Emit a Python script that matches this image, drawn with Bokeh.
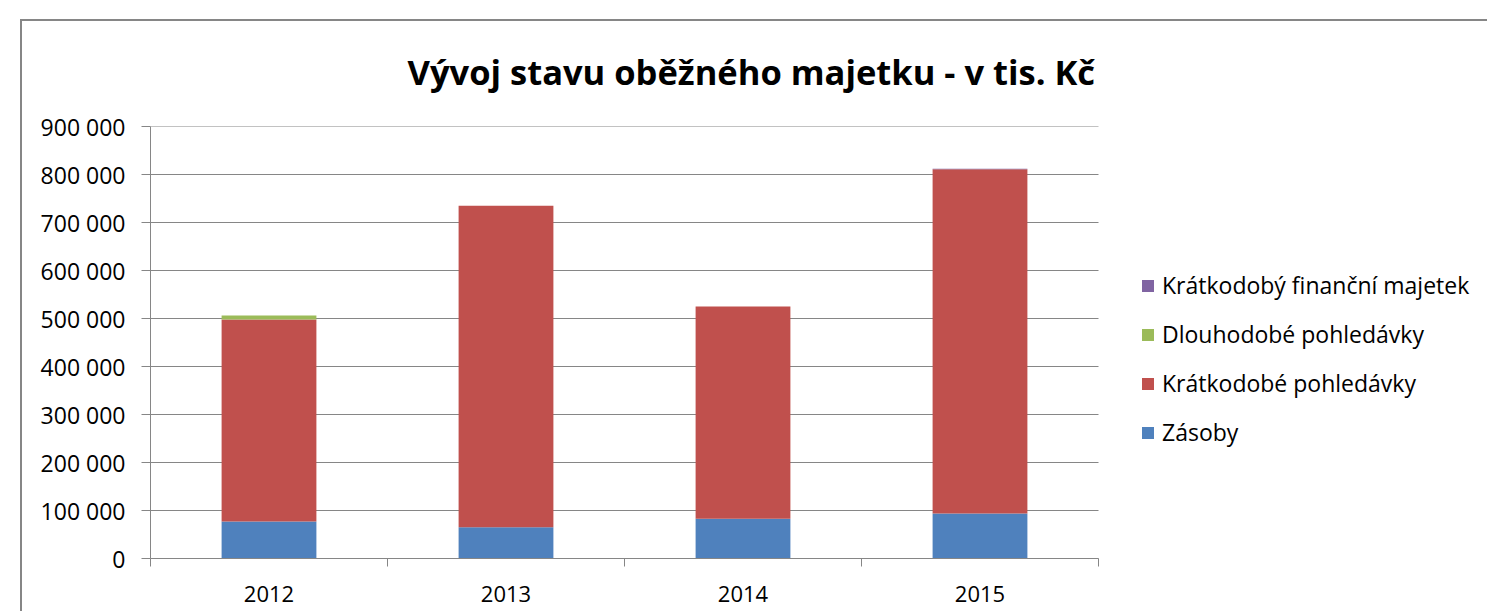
from bokeh.plotting import figure
from bokeh.models import (ColumnDataSource, FixedTicker, Legend, LegendItem,
                          Range1d, InlineStyleSheet)
from bokeh.embed import file_html
from bokeh.resources import INLINE

# ---- data ----
years = ["2012", "2013", "2014", "2015"]
zasoby = [77000, 65000, 83000, 94000]
kratkodobe_pohledavky = [421000, 670000, 442000, 717000]
dlouhodobe_pohledavky = [8000, 0, 0, 0]
kratkodoby_financni_majetek = [0, 0, 0, 1200]
series_names = ["Zásoby", "Krátkodobé pohledávky", "Dlouhodobé pohledávky",
                "Krátkodobý finanční majetek"]
series_colors = ["#4F81BD", "#C0504D", "#9BBB59", "#8064A2"]
y_ticks = [0, 100000, 200000, 300000, 400000, 500000, 600000, 700000, 800000, 900000]
y_tick_labels = ["0", "100 000", "200 000", "300 000", "400 000", "500 000",
                 "600 000", "700 000", "800 000", "900 000"]
title_text = "Vývoj stavu oběžného majetku - v tis. Kč"

FONT = "Open Sans"
GRAY = "#868686"

# layout (pixels)
W, H = 1487, 611
LEFT, TOP, BOTTOM = 150, 126, 53
PLOT_W = 948          # width of the plotting area holding the bars
FRAME_W = W - LEFT    # frame extends to the right so the legend can sit in it

x_pos = [i + 1 for i in range(len(years))]
x_lo, x_hi = x_pos[0] - 0.5, x_pos[-1] + 0.5
x_end = x_lo + (x_hi - x_lo) * FRAME_W / PLOT_W

keys = ["zasoby", "kp", "dp", "kfm"]
source = ColumnDataSource(dict(x=x_pos, zasoby=zasoby, kp=kratkodobe_pohledavky,
                               dp=dlouhodobe_pohledavky, kfm=kratkodoby_financni_majetek))

p = figure(width=W, height=H, output_backend="svg", toolbar_location=None,
           x_range=Range1d(x_lo, x_end), y_range=Range1d(y_ticks[0], y_ticks[-1]),
           min_border_left=LEFT, min_border_right=0, min_border_top=TOP,
           min_border_bottom=BOTTOM)
p.outline_line_color = None
p.background_fill_color = "white"
p.border_fill_color = "white"

# chart-area border (left and top edges are the only ones inside the window)
p.stylesheets = [InlineStyleSheet(css="""
:host { position: relative; overflow: hidden; }
:host::after { content: ""; position: absolute; left: 20px; top: 19px;
  width: 4000px; height: 4000px; border-left: 2px solid #868686;
  border-top: 2px solid #868686; pointer-events: none; z-index: 10; }
""")]

# horizontal gridlines limited to the plotting area
p.xgrid.visible = False
p.ygrid.visible = False
p.segment(x0=[x_lo] * len(y_ticks), x1=[x_hi] * len(y_ticks), y0=y_ticks, y1=y_ticks,
          line_color=GRAY, line_width=1, level="underlay")

renderers = p.vbar_stack(keys, x="x", width=0.4, source=source,
                         fill_color=series_colors, line_color=None)

# title
p.title.text = title_text
p.title.align = "left"
p.title.offset = 257
p.title.standoff = 64
p.title.text_font = FONT
p.title.text_font_size = "34.5px"
p.title.text_font_style = "bold"
p.title.text_color = "black"

# x axis
p.xaxis.bounds = (x_lo, x_hi)
p.xaxis.ticker = FixedTicker(ticks=x_pos, minor_ticks=[i + 0.5 for i in range(len(years) + 1)])
p.xaxis.major_label_overrides = {x: y for x, y in zip(x_pos, years)}
p.xaxis.major_tick_out = 0
p.xaxis.major_tick_in = 0
p.xaxis.minor_tick_out = 8
p.xaxis.minor_tick_in = 0
p.xaxis.minor_tick_line_color = GRAY
p.xaxis.axis_line_color = GRAY
p.xaxis.major_label_text_font = FONT
p.xaxis.major_label_text_font_size = "22px"
p.xaxis.major_label_text_color = "black"
p.xaxis.major_label_standoff = 19

# y axis
p.yaxis.ticker = FixedTicker(ticks=y_ticks)
p.yaxis.major_label_overrides = {t: l for t, l in zip(y_ticks, y_tick_labels)}
p.yaxis.major_tick_out = 9
p.yaxis.major_tick_in = 0
p.yaxis.minor_tick_line_color = None
p.yaxis.major_tick_line_color = GRAY
p.yaxis.axis_line_color = GRAY
p.yaxis.major_label_text_font = FONT
p.yaxis.major_label_text_font_size = "23px"
p.yaxis.major_label_text_color = "black"
p.yaxis.major_label_standoff = 16

# legend (reverse order, like Excel)
items = [LegendItem(label=series_names[i], renderers=[renderers[i]])
         for i in range(len(keys) - 1, -1, -1)]
legend = Legend(items=items, location=(990, 110), orientation="vertical",
                glyph_width=15, glyph_height=15, label_standoff=7, label_height=30,
                spacing=17, padding=0, margin=0, border_line_color=None,
                background_fill_alpha=0, label_text_font=FONT,
                label_text_font_size="23px", label_text_color="black")
p.add_layout(legend)

open("out.html", "w").write(file_html(p, INLINE))
